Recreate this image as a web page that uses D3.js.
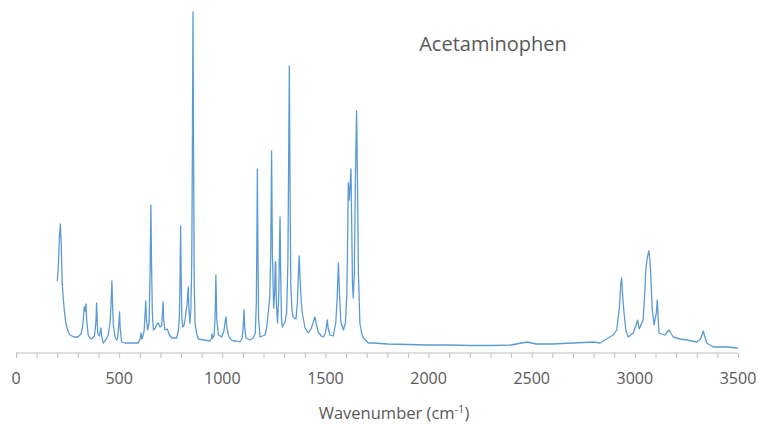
<!DOCTYPE html>
<html>
<head>
<meta charset="utf-8">
<script src="https://cdn.jsdelivr.net/npm/d3@7"></script>
<style>
  body { margin: 0; background: #fff; }
  svg text { font-family: "Open Sans", sans-serif; fill: #595959; }
</style>
</head>
<body>
<svg id="chart" width="759" height="424"></svg>
<script>
const WIDTH = 759
const HEIGHT = 424

const CHART_TITLE = "Acetaminophen"
const X_TICKS = [0, 500, 1000, 1500, 2000, 2500, 3000, 3500]

//Raman shift (cm-1)
const wavenumbers = [
  200, 205, 210, 215, 219, 224, 229, 234, 240, 246, 254, 262, 280, 300, 315, 322, 328, 331, 335, 339,
  343, 350, 358, 367, 380, 387, 391, 394, 396, 404, 409, 412, 416, 423, 435, 447, 456, 462, 465, 468,
  472, 480, 488, 493, 499, 502, 505, 512, 528, 560, 593, 602, 606, 610, 614, 621, 626, 629, 632, 638,
  645, 650, 654, 657, 661, 666, 676, 684, 690, 698, 706, 710, 713, 716, 722, 733, 744, 755, 779, 787,
  792, 795, 798, 801, 804, 808, 815, 820, 824, 830, 835, 838, 843, 848, 852, 855, 858, 861, 864, 868,
  875, 884, 910, 940, 946, 950, 954, 960, 965, 969, 973, 981, 990, 997, 1008, 1015, 1018, 1022, 1029, 1040,
  1053, 1070, 1086, 1097, 1101, 1105, 1109, 1115, 1134, 1150, 1160, 1165, 1168, 1170, 1173, 1176, 1183, 1195, 1207, 1215,
  1223, 1230, 1235, 1239, 1243, 1249, 1254, 1257, 1259, 1262, 1268, 1274, 1277, 1280, 1283, 1287, 1291, 1304, 1312, 1318,
  1322, 1325, 1328, 1332, 1338, 1344, 1357, 1364, 1369, 1373, 1377, 1383, 1388, 1401, 1417, 1430, 1440, 1449, 1455, 1465,
  1480, 1490, 1500, 1505, 1509, 1513, 1522, 1538, 1550, 1557, 1563, 1568, 1575, 1587, 1597, 1604, 1608, 1611, 1613, 1616,
  1620, 1624, 1628, 1631, 1635, 1640, 1645, 1651, 1655, 1660, 1667, 1675, 1684, 1708, 1732, 1800, 1900, 2000, 2100, 2200,
  2300, 2400, 2450, 2480, 2520, 2600, 2700, 2800, 2831, 2863, 2895, 2912, 2925, 2932, 2936, 2940, 2947, 2957, 2968, 2992,
  3006, 3013, 3021, 3040, 3048, 3053, 3060, 3068, 3072, 3076, 3084, 3093, 3104, 3109, 3113, 3117, 3130, 3146, 3165, 3186,
  3220, 3251, 3300, 3318, 3327, 3332, 3338, 3348, 3381, 3445, 3500
]

//Intensity (arbitrary units)
const intensities = [
  72, 85, 115, 129, 110, 70, 55, 43, 32, 26, 21, 18, 16, 16, 19, 25, 38, 46, 42, 49,
  32, 18, 15, 14, 17, 30, 50, 30, 20, 17, 22, 25, 16, 10, 13, 18, 30, 55, 72, 50,
  28, 16, 13, 15, 30, 41, 25, 11, 10, 10, 10, 14, 20, 14, 16, 22, 40, 52, 35, 23,
  30, 80, 148, 90, 40, 23, 25, 29, 30, 26, 27, 40, 51, 33, 23, 24, 18, 15, 15, 22,
  36, 70, 127, 70, 35, 26, 28, 34, 41, 50, 66, 45, 30, 45, 90, 200, 341, 190, 70, 30,
  20, 14, 13, 12, 14, 19, 15, 17, 35, 78, 35, 18, 17, 16, 22, 33, 36, 26, 18, 14,
  12, 12, 11, 15, 25, 43, 25, 15, 13, 15, 20, 50, 120, 184, 100, 35, 16, 17, 18, 25,
  41, 55, 100, 202, 100, 45, 60, 91, 91, 50, 30, 60, 100, 136, 80, 35, 26, 31, 40, 90,
  200, 287, 180, 70, 42, 36, 34, 50, 80, 97, 75, 50, 40, 25, 20, 24, 30, 36, 30, 21,
  17, 16, 20, 27, 33, 25, 18, 17, 30, 55, 90, 60, 31, 23, 30, 60, 120, 170, 165, 153,
  170, 184, 120, 70, 55, 80, 170, 242, 180, 80, 30, 20, 15, 10, 10, 9, 8.5, 8, 8, 7.5,
  7.5, 8, 10, 11, 9, 9, 10, 11, 10, 14, 18, 23, 45, 70, 75, 60, 41, 22, 16, 20,
  28, 33, 24, 33, 60, 83, 95, 102, 95, 83, 45, 28, 40, 53, 35, 20, 19, 18, 23, 16,
  14, 13, 11, 14, 19, 22, 17, 10, 6, 6, 5
]

const spectrum = wavenumbers.map((w, i) => ({w: w, v: intensities[i]}))

var svg = d3.select("#chart")

var x = d3.scaleLinear().domain([0, 3500]).range([16, 738])
var y = d3.scaleLinear().domain([0, 341]).range([353, 12])

//Axis with minor ticks every 100, labels every 500
var xAxis = svg.append("g")
  .attr("transform", "translate(0," + y(0) + ")")
  .call(d3.axisBottom(x).tickValues(d3.range(0, 3501, 100)).tickSize(5).tickFormat(""))

xAxis.selectAll("path, line").attr("stroke", "#bfbfbf")
xAxis.select("path").attr("d", "M" + x(0) + ",0H" + x(3500))

svg.append("g")
  .selectAll("text")
  .data(X_TICKS)
  .join("text")
    .attr("x", d => x(d))
    .attr("y", 384)
    .attr("text-anchor", "middle")
    .style("font-size", "16px")
    .text(d => d)

//Spectrum trace
var line = d3.line()
  .x(d => x(d.w))
  .y(d => y(d.v))

svg.append("path")
  .datum(spectrum)
  .attr("d", line)
  .attr("fill", "none")
  .attr("stroke", "#5b9bd5")
  .attr("stroke-width", 1.3)
  .attr("stroke-linejoin", "round")

//Title
svg.append("text")
  .attr("x", 493)
  .attr("y", 51)
  .attr("text-anchor", "middle")
  .style("font-size", "20px")
  .text(CHART_TITLE)

//Axis title with superscript
var xTitle = svg.append("text")
  .attr("x", 394)
  .attr("y", 419)
  .attr("text-anchor", "middle")
  .style("font-size", "16.5px")

xTitle.append("tspan").text("Wavenumber (cm")
xTitle.append("tspan").attr("dy", -6).style("font-size", "11px").text("-1")
xTitle.append("tspan").attr("dy", 6).text(")")
</script>
</body>
</html>
